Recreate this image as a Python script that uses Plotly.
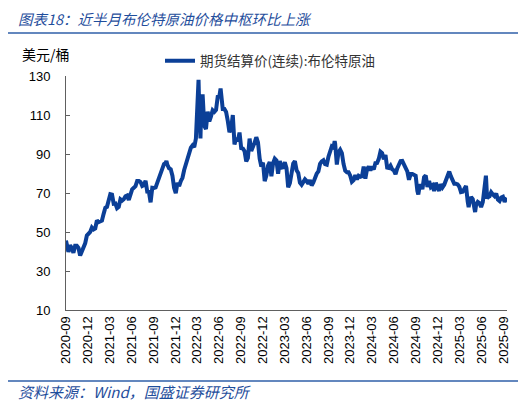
import pandas as pd
import plotly.graph_objects as go

# Brent settle, weekly (Fridays) from 2020-09-04
Brent_Weekly = [
    # 2020 Sep-Dec
    42.7, 39.8, 43.2, 41.9,
    39.3, 42.9, 42.9, 41.8, 37.9,
    39.5, 42.8, 44.2, 48.2,
    49.3, 50.0, 52.3, 51.3,
    # 2021
    51.8, 56.0, 55.1, 55.4, 55.9,
    59.3, 62.4, 62.9, 66.1,
    69.4, 69.2, 64.5, 64.6,
    62.2, 62.9, 66.8, 66.1, 66.8,
    68.3, 68.7, 66.4, 69.6,
    71.9, 72.7, 73.5, 76.2,
    76.2, 75.6, 73.6, 74.1, 76.3,
    70.7, 70.6, 65.2, 72.7,
    72.6, 72.9, 75.3, 78.1,
    79.3, 82.4, 84.9, 85.5, 84.4,
    82.7, 82.2, 78.9, 72.7,
    69.9, 75.2, 73.5, 76.1, 77.8,
    # 2022
    81.8, 85.1, 87.9, 90.0,
    93.3, 94.4, 93.5, 97.9,
    118.1, 112.7, 107.9, 120.6,
    104.4, 102.8, 111.7, 106.7, 109.3,
    112.4, 111.6, 112.6, 119.4,
    119.7, 122.0, 113.1, 113.1,
    111.6, 107.0, 101.2, 103.2, 110.0,
    94.9, 98.2, 96.7, 101.0,
    93.0, 92.8, 91.4, 86.2, 88.0,
    97.9, 91.6, 93.5, 95.8,
    98.6, 96.0, 87.6, 83.6,
    85.6, 76.1, 79.0, 84.0, 85.9,
    # 2023
    78.6, 85.3, 87.6, 86.7,
    79.9, 86.4, 83.0, 83.2,
    85.8, 82.8, 73.0, 75.0, 79.8,
    85.1, 86.3, 81.7, 80.3,
    75.3, 74.2, 75.6, 77.0,
    76.1, 74.8, 76.6, 73.9, 75.4,
    78.5, 79.9, 81.1, 85.0,
    86.2, 86.8, 84.8, 84.5,
    88.6, 90.7, 93.9, 93.3, 95.3,
    84.6, 90.9, 92.2, 90.5,
    84.9, 81.4, 80.6, 80.6,
    78.9, 75.8, 76.6, 79.1, 77.0,
    # 2024
    78.8, 78.3, 78.6, 83.6,
    77.3, 82.2, 83.5, 81.6,
    83.6, 82.1, 85.3, 85.4, 87.5,
    91.2, 90.5, 87.3, 89.5,
    83.0, 82.8, 84.0, 82.1, 81.6,
    79.6, 82.6, 85.2, 86.4,
    86.5, 85.0, 82.6, 81.1,
    76.8, 79.7, 79.7, 79.0, 78.8,
    71.1, 71.6, 74.5, 72.0,
    78.1, 79.0, 73.1, 76.1,
    73.1, 73.9, 71.0, 75.2, 72.9,
    71.1, 74.5, 72.9, 74.2,
    # 2025
    76.5, 79.8, 81.0, 78.5, 76.8,
    74.7, 74.7, 74.4, 73.2,
    70.4, 70.6, 72.2, 73.6,
    65.6, 64.8, 68.0, 66.9,
    61.3, 63.9, 65.4, 64.8, 62.8,
    65.3, 74.2, 77.0, 67.8,
    68.3, 70.4, 69.3, 68.4,
    69.7, 66.6, 65.9, 67.7, 68.1,
    65.5, 67.0,
]
Weekly_Dates = pd.date_range("2020-09-04", periods=len(Brent_Weekly), freq="W-FRI")

# daily extremes that weekly closes miss
Spike_Dates = ["2020-09-01", "2020-11-02", "2021-10-25", "2022-03-08", "2022-03-16",
               "2022-06-08", "2022-12-09", "2023-03-17", "2023-09-27", "2024-09-10",
               "2025-04-08", "2025-05-05", "2025-06-19", "2025-06-24", "2025-09-15"]
Spike_Values = [45.6, 38.9, 86.4, 128.0, 98.0,
                123.6, 76.1, 72.9, 96.6, 69.2,
                62.8, 60.2, 78.9, 67.1, 67.4]

Px_Data = pd.concat([
    pd.Series(Brent_Weekly, index=Weekly_Dates),
    pd.Series(Spike_Values, index=pd.to_datetime(Spike_Dates)),
]).sort_index()

Tick_Dates = pd.date_range("2020-09-01", "2025-09-01", freq="3MS")
Tick_Labels = [d.strftime("%Y-%m") for d in Tick_Dates]
Y_Ticks = [10, 30, 50, 70, 90, 110, 130]

Blue = "#0B3F97"
Cjk = "Noto Sans CJK SC"

# page has an 8px body margin, so figure coords = page coords - 8
# plot area on the page: x 66..507, y 76..310
OFF = 8
def px_x(px):
    return (px - 66) / 441

def px_y(py):
    return (310 - py) / 234

fig = go.Figure()
fig.add_trace(go.Scatter(
    x=Px_Data.index, y=Px_Data.values, mode="lines",
    name="期货结算价(连续):布伦特原油",
    line=dict(color=Blue, width=4)))

fig.update_layout(
    width=526, height=406,
    margin=dict(l=66-OFF, r=526-(507-OFF), t=76-OFF, b=406-(310-OFF), autoexpand=False),
    paper_bgcolor="white", plot_bgcolor="white",
    title=dict(text="<i>图表18：近半月布伦特原油价格中枢环比上涨</i>",
               x=(18-OFF)/526, xanchor="left", y=1-(20-OFF)/406, yanchor="middle",
               font=dict(family=Cjk, size=14.5, color="#1F4E9C")),
    showlegend=True,
    legend=dict(x=px_x(160), y=px_y(61), xanchor="left", yanchor="middle",
                bgcolor="rgba(0,0,0,0)", itemwidth=30,
                font=dict(family=Cjk, size=13.5, color="#333333")),
    font=dict(family="Liberation Sans", size=13, color="black"),
)

fig.update_xaxes(
    range=["2020-09-01", "2025-09-15"],
    tickvals=Tick_Dates, ticktext=Tick_Labels, tickangle=-90,
    showgrid=False, showline=True, linecolor="#606060", linewidth=1,
    ticks="", automargin=False, tickfont=dict(family="Liberation Sans", size=13))
fig.update_yaxes(
    range=[10, 130], tickvals=Y_Ticks,
    showgrid=False, showline=True, linecolor="#606060", linewidth=1,
    ticks="inside", ticklen=4, tickcolor="#606060", ticklabelstandoff=12,
    zeroline=False, automargin=False, tickfont=dict(family="Liberation Sans", size=13))

# unit label and source
fig.add_annotation(text="美元/桶", xref="paper", yref="paper",
                   x=px_x(46), y=px_y(54), xanchor="center", yanchor="middle",
                   showarrow=False, font=dict(family=Cjk, size=14, color="black"))
fig.add_annotation(text="<i>资料来源：Wind，国盛证券研究所</i>", xref="paper", yref="paper",
                   x=px_x(16), y=px_y(391), xanchor="left", yanchor="middle",
                   showarrow=False, font=dict(family=Cjk, size=15, color="#1F4E9C"))

# blue rules under the title and above the source
for py in [33, 381]:
    fig.add_shape(type="line", xref="paper", yref="paper",
                  x0=px_x(5), x1=px_x(524), y0=px_y(py), y1=px_y(py),
                  line=dict(color="#2F5FA8", width=1.5))

fig.write_html("out.html")
